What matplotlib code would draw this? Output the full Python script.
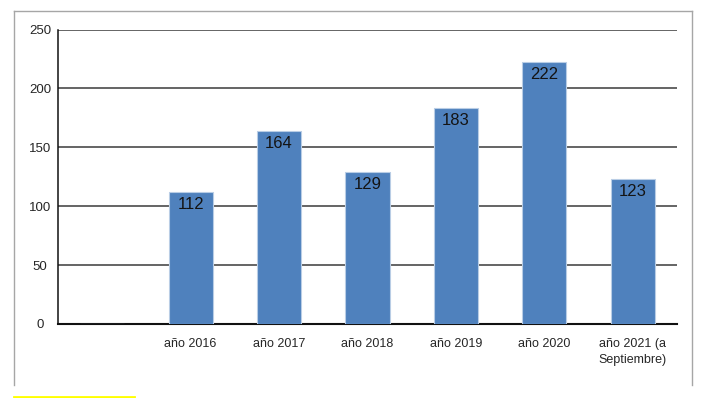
import numpy as np
import matplotlib
matplotlib.use("Agg")
import matplotlib.pyplot as plt
from matplotlib.lines import Line2D

categories = ["", "año 2016", "año 2017", "año 2018", "año 2019", "año 2020", "año 2021 (a\nSeptiembre)"]
values = [np.nan, 112, 164, 129, 183, 222, 123]
yticks = [0, 50, 100, 150, 200, 250]

FONT = ["Liberation Sans", "DejaVu Sans"]
plt.rcParams["font.family"] = FONT

fig = plt.figure(figsize=(7.07, 3.98), dpi=100)
ax = fig.add_axes([58/707, 1-324/398, (677-58)/707, (324-29.5)/398])

x = np.arange(len(categories))
vals = np.array(values, dtype=float)
bars = ax.bar(x, np.nan_to_num(vals), width=0.5, color="#4F81BD",
              edgecolor="#B9CDE5", linewidth=0.8, zorder=3)
for xi, v in zip(x, vals):
    if not np.isnan(v):
        ax.annotate(f"{int(v)}", (xi, v), xytext=(0, -3.5), textcoords="offset points",
                    ha="center", va="top", fontsize=12, color="#141414", zorder=4)

ax.set_xlim(-0.5, len(categories) - 0.5)
ax.set_ylim(0, 250)
ax.set_yticks(yticks)
ax.set_yticklabels([str(t) for t in yticks], fontsize=9.5, color="#262626")
for lab in ax.get_yticklabels():
    lab.set_horizontalalignment("center")
ax.set_xticks(x)
ax.set_xticklabels(categories, fontsize=9, color="#262626", linespacing=1.45)
ax.tick_params(axis="both", length=0)
ax.tick_params(axis="y", pad=13)
ax.tick_params(axis="x", pad=10)

ax.yaxis.grid(True, color="#3a3a3a", linewidth=1.1, zorder=0)
ax.set_axisbelow(True)
for s in ["top", "right"]:
    ax.spines[s].set_visible(False)
ax.spines["left"].set_color("#111111")
ax.spines["left"].set_linewidth(1.1)
ax.spines["bottom"].set_color("#111111")
ax.spines["bottom"].set_linewidth(1.5)

# outer frame (gray), open at bottom
W, H = 707, 398
def fx(px): return px / W
def fy(py): return 1 - py / H
frame_kw = dict(color="#A6A6A6", linewidth=1.0, transform=fig.transFigure)
fig.add_artist(Line2D([fx(14), fx(14)], [fy(11), fy(385)], **frame_kw))
fig.add_artist(Line2D([fx(692), fx(692)], [fy(11), fy(385)], **frame_kw))
fig.add_artist(Line2D([fx(14), fx(692)], [fy(11), fy(11)], **frame_kw))
# yellow highlight line at bottom-left
fig.add_artist(Line2D([fx(14), fx(134)], [fy(397), fy(397)], color="#FFFF00",
                      linewidth=2.0, transform=fig.transFigure))

fig.savefig("out.png", dpi=100)
